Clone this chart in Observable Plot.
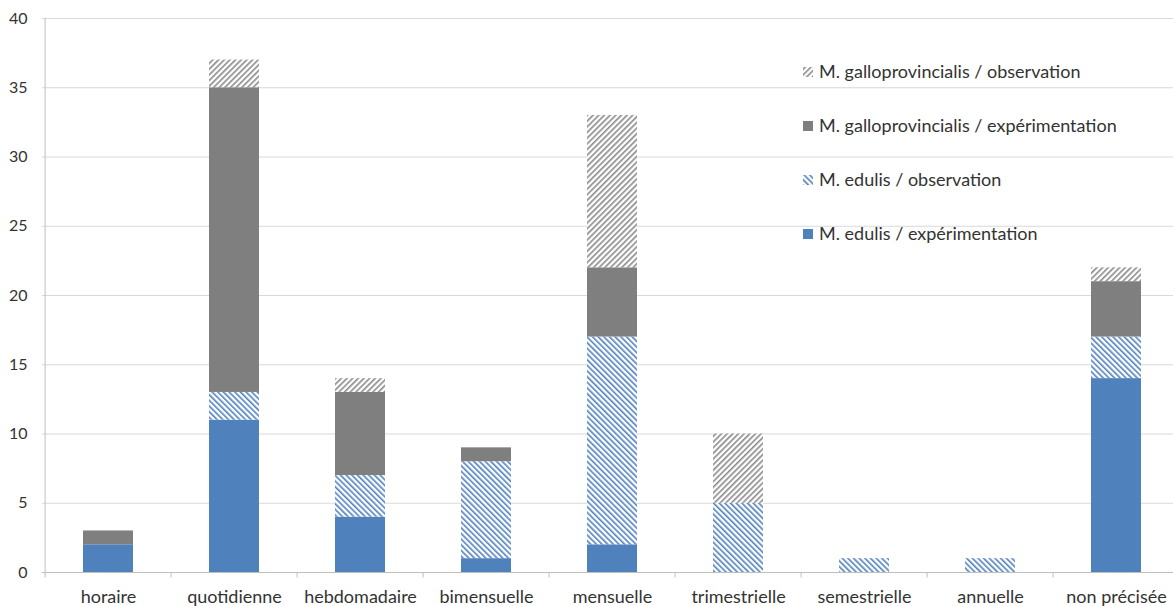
<!DOCTYPE html>
<html><head><meta charset="utf-8">
<script src="https://cdn.jsdelivr.net/npm/d3@7"></script>
<script src="https://cdn.jsdelivr.net/npm/@observablehq/plot@0.6"></script>
<style>
body{margin:0;background:#fff;}
#chart{position:relative;width:1173px;height:606px;overflow:hidden;}
</style>
</head><body><div id="chart"></div>
<script>
const categories = ["horaire","quotidienne","hebdomadaire","bimensuelle","mensuelle","trimestrielle","semestrielle","annuelle","non précisée"];
const series = ["M. edulis / expérimentation","M. edulis / observation","M. galloprovincialis / expérimentation","M. galloprovincialis / observation"];
const edulisExp = [2,11,4,1,2,0,0,0,14];
const edulisObs = [0,2,3,7,15,5,1,1,3];
const galloExp  = [1,22,6,1,5,0,0,0,4];
const galloObs  = [0,2,1,0,11,5,0,0,1];
const yTicks = [0,5,10,15,20,25,30,35,40];

const fills = ["#4f81bd","url(#hatchBlue)","#7f7f7f","url(#hatchGray)"];
const valuesBySeries = [edulisExp, edulisObs, galloExp, galloObs];

const data = [];
categories.forEach((c, i) => {
  series.forEach((s, k) => data.push({category: c, series: s, value: valuesBySeries[k][i], fill: fills[k]}));
});

const W = 1173, H = 606, mL = 42, mR = -10, mT = 18, mB = 34;
const step = (W - mL - mR) / categories.length;
const axisColor = "#bfbfbf";
const textColor = "#333333";

function defsMark() {
  const defs = d3.create("svg:defs");
  const mk = (id, color, angle) => {
    const p = defs.append("pattern").attr("id", id).attr("patternUnits", "userSpaceOnUse")
      .attr("width", 4).attr("height", 4).attr("patternTransform", `rotate(${angle})`);
    p.append("rect").attr("width", 4).attr("height", 4).attr("fill", "#fff");
    p.append("rect").attr("width", 1.6).attr("height", 4).attr("fill", color);
  };
  mk("hatchBlue", "#4f81bd", -45);
  mk("hatchGray", "#8a8a8a", 45);
  return defs.node();
}

function legendMark() {
  const g = d3.create("svg:g").attr("font-family", "Lato, sans-serif").attr("font-size", 18)
    .attr("fill", textColor).attr("text-anchor", "start");
  const order = [3, 2, 1, 0];
  order.forEach((k, r) => {
    const cy = 72 + r * 54;
    g.append("rect").attr("x", 803).attr("y", cy - 5).attr("width", 10).attr("height", 10).attr("fill", fills[k]);
    g.append("text").attr("x", 819).attr("y", cy).attr("dy", "0.35em").text(series[k]);
  });
  return g.node();
}

const chart = Plot.plot({
  width: W, height: H,
  marginLeft: mL, marginRight: mR, marginTop: mT, marginBottom: mB,
  style: {fontFamily: "Lato, sans-serif", fontSize: "16px", color: textColor, background: "#fff", overflow: "hidden"},
  x: {domain: categories, paddingInner: 0.6, paddingOuter: 0.3, label: null},
  y: {domain: [0, 40], label: null},
  color: {type: "identity"},
  marks: [
    defsMark,
    Plot.gridY(yTicks.slice(1), {stroke: "#d9d9d9", strokeOpacity: 1}),
    Plot.ruleY([0], {stroke: axisColor}),
    Plot.ruleX([categories[0]], {dx: -step / 2, y1: -0.4, y2: 40, stroke: axisColor}),
    Plot.ruleX(categories.slice(1), {x: d => d, dx: -step / 2, y1: 0, y2: -0.4, stroke: axisColor}),
    Plot.barY(data, {x: "category", y: "value", z: "series", fill: "fill", order: null}),
    Plot.axisX({tickSize: 0, tickPadding: 18, fontSize: 18, fill: textColor}),
    Plot.axisY(yTicks, {tickSize: 0, tickPadding: 15, fontSize: 16, fill: textColor}),
    legendMark
  ]
});
document.getElementById("chart").appendChild(chart);
</script>
</body></html>
